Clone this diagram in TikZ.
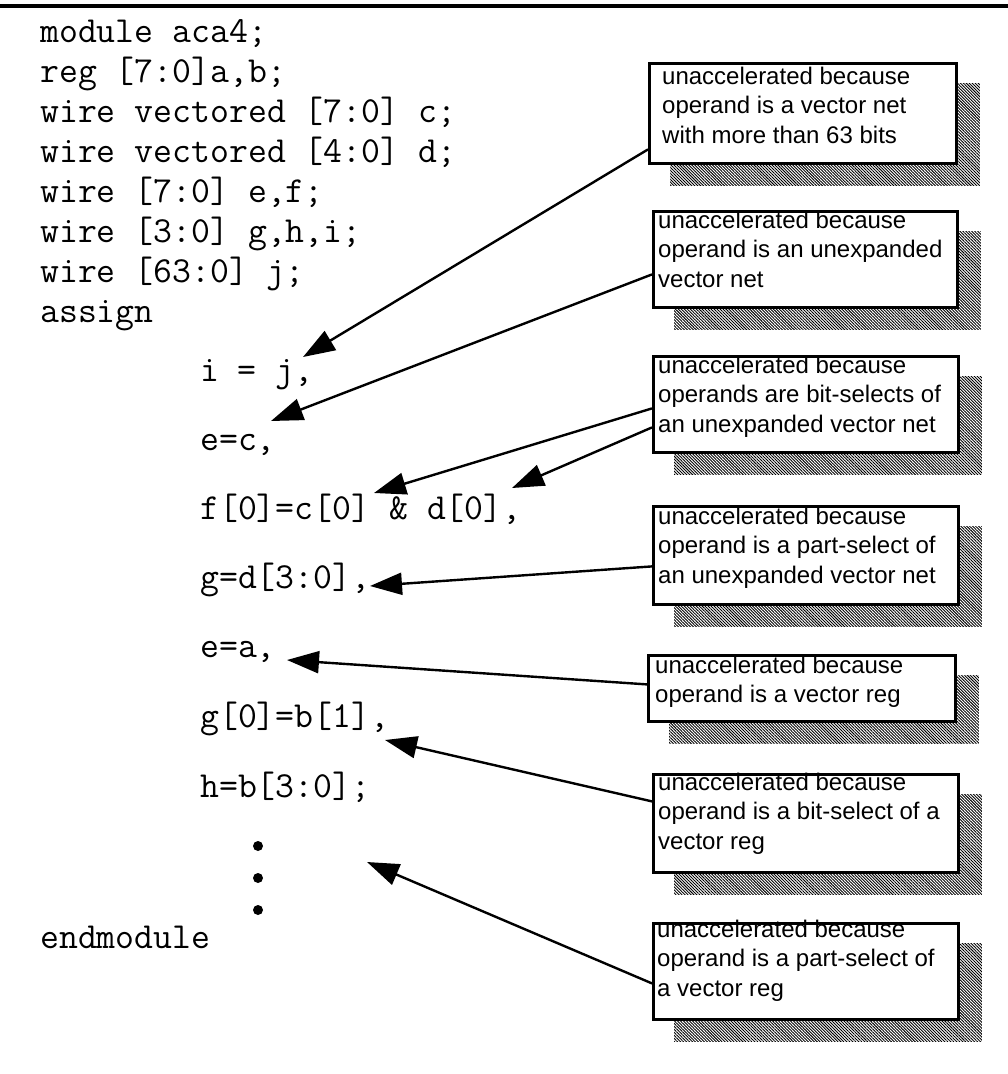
\documentclass[tikz,border=0pt]{standalone}
\usepackage{fontspec}
\setmainfont{Liberation Sans}
\usetikzlibrary{arrows.meta,patterns.meta}
\pgfdeclarelayer{background}
\pgfsetlayers{background,main}

\tikzset{
  code/.style={anchor=base west, inner sep=0pt, font=\fontsize{36.7}{37}\selectfont\ttfamily},
  note/.style={draw, line width=2.8pt, fill=white, inner sep=0pt, anchor=north west},
  notetext/.style={anchor=base west, inner sep=0pt, font=\fontsize{24}{29.5}\selectfont},
  hatch/.style={pattern={Lines[angle=-45,distance=2.1pt,line width=0.9pt]}},
  callout/.style={line width=2.4pt, -{Triangle[length=32pt,width=22pt]}},
  dot/.style={circle, fill=black, inner sep=0pt, minimum size=10pt},
}
\newcommand{\notelines}[1]{\parbox[t]{300pt}{#1}}

\begin{document}
\begin{tikzpicture}[x=1pt, y=-1pt]
\useasboundingbox (0,0) rectangle (1008,1074);

% rule across the top
\draw[line width=3.5pt] (0,6) -- (1008,6);

% Verilog source
\node[code] (l1) at (40,42)  {module aca4;};
\node[code] (l2) at (40,82)  {reg [7:0]a,b;};
\node[code] (l3) at (40,122) {wire vectored [7:0] c;};
\node[code] (l4) at (40,162) {wire vectored [4:0] d;};
\node[code] (l5) at (40,202) {wire [7:0] e,f;};
\node[code] (l6) at (40,242) {wire [3:0] g,h,i;};
\node[code] (l7) at (40,282) {wire [63:0] j;};
\node[code] (l8) at (40,322) {assign};
\node[code] (s1) at (200,381) {i = j,};
\node[code] (s2) at (200,450) {e=c,};
\node[code] (s3) at (200,519) {f[0]=c[0] \& d[0],};
\node[code] (s4) at (200,588) {g=d[3:0],};
\node[code] (s5) at (200,657) {e=a,};
\node[code] (s6) at (200,727) {g[0]=b[1],};
\node[code] (s7) at (200,797) {h=b[3:0];};
\node[dot] (d1) at (258,846) {};
\node[dot] (d2) at (258,878) {};
\node[dot] (d3) at (258,910) {};
\node[code] (l9) at (40,948) {endmodule};

% explanation boxes
\node[note, minimum width=307pt, minimum height=100pt] (b1) at (648,62)  {};
\node[note, minimum width=304pt, minimum height=96pt]  (b2) at (652,210) {};
\node[note, minimum width=305pt, minimum height=96pt]  (b3) at (652,355) {};
\node[note, minimum width=305pt, minimum height=98pt]  (b4) at (652,505) {};
\node[note, minimum width=307pt, minimum height=66pt]  (b5) at (647,654) {};
\node[note, minimum width=305pt, minimum height=98pt]  (b6) at (652,773) {};
\node[note, minimum width=305pt, minimum height=96pt]  (b7) at (652,922) {};

\node[notetext] (n1) at (662,84)  {\notelines{unaccelerated because\\operand is a vector net\\with more than 63 bits}};
\node[notetext] (n2) at (658,228) {\notelines{unaccelerated because\\operand is an unexpanded\\vector net}};
\node[notetext] (n3) at (658,373) {\notelines{unaccelerated because\\operands are bit-selects of\\an unexpanded vector net}};
\node[notetext] (n4) at (658,524) {\notelines{unaccelerated because\\operand is a part-select of\\an unexpanded vector net}};
\node[notetext] (n5) at (655,673) {\notelines{unaccelerated because\\operand is a vector reg}};
\node[notetext] (n6) at (658,790) {\notelines{unaccelerated because\\operand is a bit-select of a\\vector reg}};
\node[notetext] (n7) at (657,937) {\notelines{unaccelerated because\\operand is a part-select of\\a vector reg}};

% white page and hatched drop shadows behind everything
\begin{pgfonlayer}{background}
\fill[white] (0,0) rectangle (1008,1074);
\foreach \b in {b1,b2,b3,b4,b5,b6,b7}
  \fill[hatch] ([shift={(22pt,-21pt)}]\b.north west) rectangle ([shift={(22pt,-21pt)}]\b.south east);
\end{pgfonlayer}

% arrow tips
\coordinate (t1) at (303,357);
\coordinate (t2) at (271,421);
\coordinate (t3) at (374,493);
\coordinate (t4) at (512,488);
\coordinate (t5) at (370,586);
\coordinate (t6) at (287,660);
\coordinate (t7) at (385,740);
\coordinate (t8) at (367,862);

\draw[callout] ([yshift=-36pt]b1.west) -- (t1);
\draw[callout] ([yshift=-15pt]b2.west) -- (t2);
\draw[callout] ([yshift=-4pt]b3.west)  -- (t3);
\draw[callout] ([yshift=-23pt]b3.west) -- (t4);
\draw[callout] ([yshift=-11pt]b4.west) -- (t5);
\draw[callout] ([yshift=4pt]b5.west)   -- (t6);
\draw[callout] ([yshift=22pt]b6.west)  -- (t7);
\draw[callout] ([yshift=-12pt]b7.west) -- (t8);
\end{tikzpicture}
\end{document}
